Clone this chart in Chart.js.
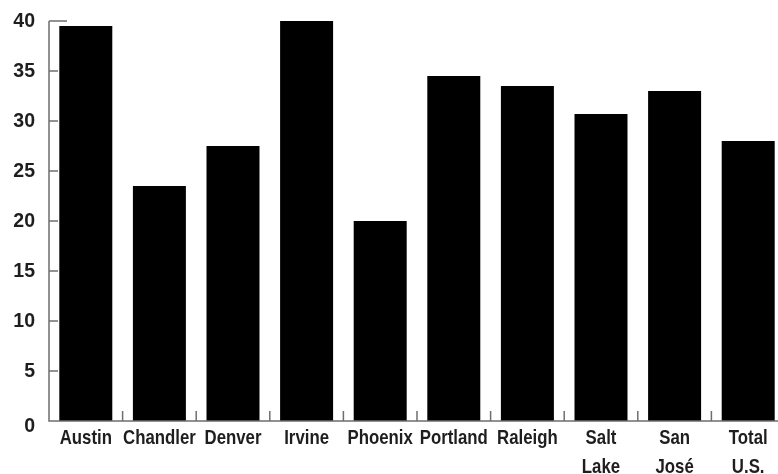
<!DOCTYPE html>
<html>
<head>
<meta charset="utf-8">
<script src="https://cdn.jsdelivr.net/npm/chart.js@4/dist/chart.umd.min.js"></script>
<style>
  html, body { margin: 0; padding: 0; background: #fff; overflow: hidden; }
  #wrap { width: 786px; height: 474px; }
</style>
</head>
<body>
<div id="wrap"><canvas id="c" width="786" height="474"></canvas></div>
<script>
const categories = [
  "Austin", "Chandler", "Denver", "Irvine", "Phoenix",
  "Portland", "Raleigh", ["Salt", "Lake"], ["San", "José"], ["Total", "U.S."]
];
const values = [39.5, 23.5, 27.5, 40, 20, 34.5, 33.5, 30.7, 33, 28];
const yTicks = [0, 5, 10, 15, 20, 25, 30, 35, 40];

const FONT = "'Liberation Sans', Arial, sans-serif";
const AXIS = '#6e6e6e';
const TEXT = '#1e1e1e';

const axisPlugin = {
  id: 'axisDecor',
  afterDatasetsDraw(chart) {
    const ctx = chart.ctx;
    const x = chart.scales.x, y = chart.scales.y;
    const area = chart.chartArea;
    ctx.save();
    ctx.strokeStyle = AXIS;
    ctx.lineWidth = 1.5;
    ctx.beginPath();
    ctx.moveTo(area.left, y.getPixelForValue(40));
    ctx.lineTo(area.left, area.bottom);
    ctx.lineTo(chart.width, area.bottom);
    ctx.stroke();
    yTicks.forEach(v => {
      if (v === 0) return;
      const py = y.getPixelForValue(v);
      const len = v === 40 ? 18 : 9;
      ctx.beginPath();
      ctx.moveTo(area.left, py);
      ctx.lineTo(area.left + len, py);
      ctx.stroke();
    });
    for (let i = 1; i < categories.length; i++) {
      const px = (x.getPixelForValue(i - 1) + x.getPixelForValue(i)) / 2;
      ctx.beginPath();
      ctx.moveTo(px, area.bottom);
      ctx.lineTo(px, area.bottom - 10);
      ctx.stroke();
    }

    // condensed labels
    ctx.fillStyle = TEXT;
    ctx.font = 'bold 21px ' + FONT;
    ctx.textBaseline = 'middle';
    ctx.textAlign = 'right';
    yTicks.forEach(v => {
      const py = y.getPixelForValue(v) + (v === 0 ? 5 : 0);
      ctx.save();
      ctx.translate(area.left - 14, py);
      ctx.scale(0.93, 1);
      ctx.fillText(String(v), 0, 0);
      ctx.restore();
    });
    ctx.textBaseline = 'alphabetic';
    ctx.textAlign = 'center';
    categories.forEach((lab, i) => {
      const px = x.getPixelForValue(i);
      const lines = Array.isArray(lab) ? lab : [lab];
      lines.forEach((t, j) => {
        ctx.save();
        ctx.translate(px, area.bottom + 23 + 29 * j);
        ctx.scale(0.8, 1);
        ctx.fillText(t, 0, 0);
        ctx.restore();
      });
    });
    ctx.restore();
  }
};

new Chart(document.getElementById('c'), {
  type: 'bar',
  data: {
    labels: categories,
    datasets: [{
      data: values,
      backgroundColor: '#000',
      borderWidth: 0,
      barPercentage: 0.72,
      categoryPercentage: 1.0
    }]
  },
  options: {
    responsive: false,
    animation: false,
    devicePixelRatio: 1,
    layout: { padding: { top: 21, right: 1, left: 0, bottom: 0 } },
    plugins: { legend: { display: false }, tooltip: { enabled: false } },
    scales: {
      x: {
        grid: { display: false, drawTicks: false },
        border: { display: false },
        ticks: { display: false },
        afterFit(s) { s.height = 53; }
      },
      y: {
        min: 0, max: 40,
        grid: { display: false, drawTicks: false },
        border: { display: false },
        ticks: { display: false, stepSize: 5 },
        afterFit(s) { s.width = 49; }
      }
    }
  },
  plugins: [axisPlugin]
});
</script>
</body>
</html>
